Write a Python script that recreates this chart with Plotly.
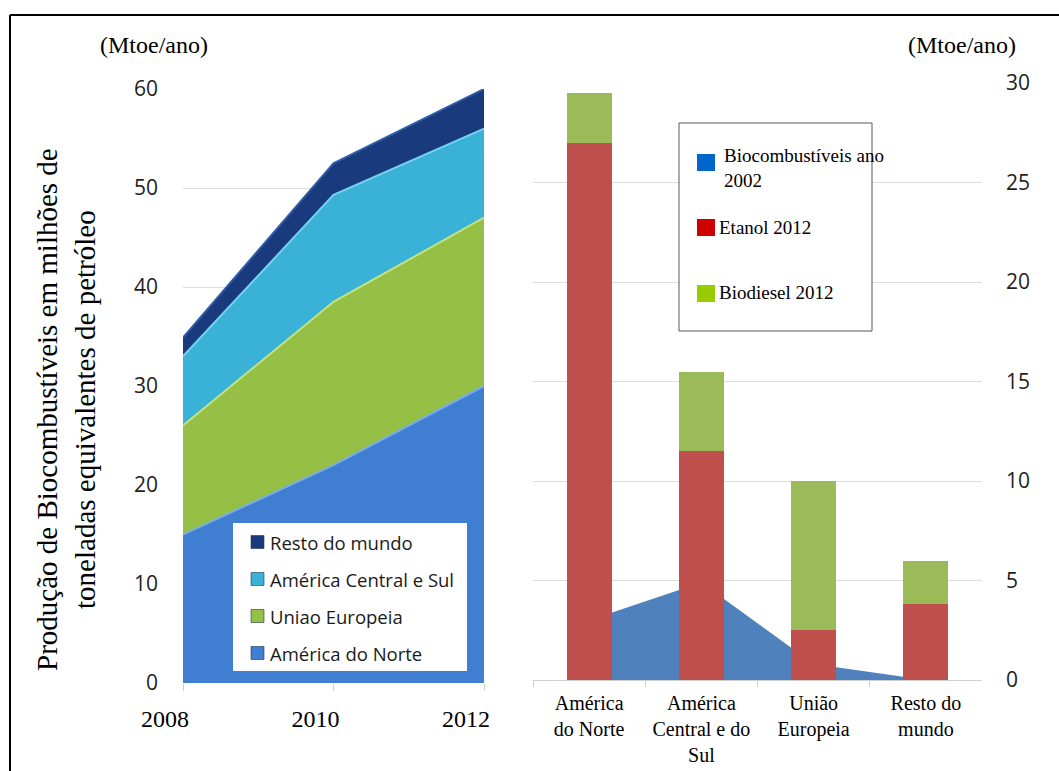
import plotly.graph_objects as go

W, H = 1059, 771

# ---------------- data ----------------
years = [2008, 2010, 2012]
norte = [15.0, 22.0, 30.0]
uniao = [11.0, 16.5, 17.0]
central = [7.0, 10.8, 9.0]
resto = [1.9, 3.2, 4.0]
left_names = ["América do Norte", "Uniao Europeia", "América Central e Sul", "Resto do mundo"]
left_ticks = [0, 10, 20, 30, 40, 50, 60]

regions = ["América<br>do Norte", "América<br>Central e do<br>Sul", "União<br>Europeia", "Resto do<br>mundo"]
bio2002 = [3.0, 4.9, 0.8, 0.0]
etanol2012 = [27.0, 11.5, 2.5, 3.8]
biodiesel2012 = [2.5, 4.0, 7.5, 2.2]
right_names = ["Biocombustíveis ano<br>2002", "Etanol 2012", "Biodiesel 2012"]
right_ticks = [0, 5, 10, 15, 20, 25, 30]

unit_label = "(Mtoe/ano)"
y_title = "Produção de Biocombustíveis em milhões de<br>toneladas equivalentes de petróleo"

# ---------------- style ----------------
SERIF = "Liberation Serif, Times New Roman, serif"
SANS = "Open Sans, Noto Sans, sans-serif"
left_fill = ["#3F7ED0", "#95BF45", "#3AB2D8", "#1A3A7E"]
left_line = ["#78ACEC", "#C4E27E", "#74D2EE", "#2F5BA6"]
right_colors = ["#4F81BD", "#C0504D", "#9BBB59"]
right_legend_colors = ["#0066CC", "#CC0000", "#99CC00"]


def px(x):
    return x / W


def py(y):
    return 1 - y / H


fig = go.Figure()

left_values = [norte, uniao, central, resto]
for name, vals, fc, lc in zip(left_names, left_values, left_fill, left_line):
    fig.add_trace(go.Scatter(
        x=years, y=vals, name=name, stackgroup="left", mode="lines",
        line=dict(color=lc, width=2), fillcolor=fc, showlegend=False,
        xaxis="x", yaxis="y", hoverinfo="x+y+name",
    ))

# area of 2002 (behind bars)
fig.add_trace(go.Scatter(
    x=regions, y=bio2002, name="Biocombustíveis ano 2002", mode="lines",
    fill="tozeroy", fillcolor=right_colors[0], line=dict(color=right_colors[0], width=0),
    showlegend=False, xaxis="x2", yaxis="y2",
))
fig.add_trace(go.Bar(
    x=regions, y=etanol2012, name="Etanol 2012", marker=dict(color=right_colors[1], line=dict(width=0)),
    width=0.4, showlegend=False, xaxis="x3", yaxis="y3",
))
fig.add_trace(go.Bar(
    x=regions, y=biodiesel2012, name="Biodiesel 2012", marker=dict(color=right_colors[2], line=dict(width=0)),
    width=0.4, showlegend=False, xaxis="x3", yaxis="y3",
))

shapes = []
annotations = []

# outer frame (top and left edges visible)
shapes.append(dict(type="line", xref="paper", yref="paper", x0=px(10), x1=1.0, y0=py(15), y1=py(15),
                   line=dict(color="black", width=2)))
shapes.append(dict(type="line", xref="paper", yref="paper", x0=px(10), x1=px(10), y0=py(15), y1=0,
                   line=dict(color="black", width=2)))

# left legend (manual, reversed order)
shapes.append(dict(type="rect", xref="paper", yref="paper", x0=px(233), x1=px(467), y0=py(671), y1=py(523),
                   fillcolor="white", line=dict(width=0), layer="above"))
rows_y = [653, 616, 579, 542]
for name, fc, yy in zip(left_names, left_fill, rows_y):
    shapes.append(dict(type="rect", xref="paper", yref="paper", x0=px(251), x1=px(264),
                       y0=py(yy + 6.5), y1=py(yy - 6.5), fillcolor=fc,
                       line=dict(color="#1d3557", width=0.6), layer="above"))
    annotations.append(dict(text=name, xref="paper", yref="paper", x=px(268), y=py(yy),
                            xanchor="left", yanchor="middle", showarrow=False,
                            font=dict(family=SANS, size=18.5, color="#1a1a1a")))

# right legend (manual)
shapes.append(dict(type="rect", xref="paper", yref="paper", x0=px(679), x1=px(872), y0=py(331), y1=py(123),
                   fillcolor="white", line=dict(color="#595959", width=1), layer="above"))
sw_y = [162.5, 227.5, 293.5]
txt = [(722, 168), (717, 227), (717, 292)]
for name, col, sy, (tx, ty) in zip(right_names, right_legend_colors, sw_y, txt):
    shapes.append(dict(type="rect", xref="paper", yref="paper", x0=px(697), x1=px(715),
                       y0=py(sy + 8.5), y1=py(sy - 8.5), fillcolor=col, line=dict(width=0), layer="above"))
    annotations.append(dict(text=name, xref="paper", yref="paper", x=px(tx), y=py(ty),
                            xanchor="left", yanchor="middle", align="left", showarrow=False,
                            font=dict(family=SERIF, size=19, color="black")))

# unit labels
annotations.append(dict(text=unit_label, xref="paper", yref="paper", x=px(154), y=py(45),
                        xanchor="center", yanchor="middle", showarrow=False,
                        font=dict(family=SERIF, size=24, color="black")))
annotations.append(dict(text=unit_label, xref="paper", yref="paper", x=px(962), y=py(45),
                        xanchor="center", yanchor="middle", showarrow=False,
                        font=dict(family=SERIF, size=24, color="black")))

# left vertical title
annotations.append(dict(text=y_title, xref="paper", yref="paper", x=px(66), y=py(410),
                        xanchor="center", yanchor="middle", textangle=-90, showarrow=False,
                        align="center", font=dict(family=SERIF, size=29, color="black")))

fig.update_layout(
    width=W, height=H,
    margin=dict(l=0, r=0, t=0, b=0, pad=0, autoexpand=False),
    paper_bgcolor="white", plot_bgcolor="rgba(0,0,0,0)",
    barmode="stack",
    showlegend=False,
    xaxis=dict(domain=[px(183), px(484)], anchor="y", range=[2008, 2012], automargin=False,
               tickvals=years, ticktext=[str(v) for v in years],
               ticks="outside", ticklen=7, tickcolor="#d0d0d0", showline=False,
               showgrid=False, zeroline=False, ticklabelstandoff=7, ticklabelshift=-18,
               tickfont=dict(family=SERIF, size=24, color="black")),
    yaxis=dict(domain=[py(683), py(89)], anchor="x", range=[0, 60], tickvals=left_ticks, automargin=False,
               showgrid=True, gridcolor="#dedede", gridwidth=1, zeroline=False, showline=False,
               ticks="", ticklabelstandoff=24,
               tickfont=dict(family=SANS, size=21, color="#1e1e1e")),
    xaxis2=dict(domain=[px(533), px(982)], anchor="y2", type="category", range=[-0.5, 3.5], automargin=False,
                tickson="boundaries", ticks="outside", ticklen=6, tickcolor="#d0d0d0",
                showline=True, linecolor="#d0d0d0", linewidth=1, showgrid=False,
                ticklabelstandoff=5,
                tickfont=dict(family=SERIF, size=20, color="black")),
    yaxis2=dict(domain=[py(680), py(83)], anchor="x2", side="right", range=[0, 30], tickvals=right_ticks,
                automargin=False,
                showgrid=True, gridcolor="#dedede", gridwidth=1, zeroline=False, showline=False,
                ticks="", ticklabelstandoff=23,
                tickfont=dict(family=SANS, size=21, color="#1e1e1e")),
    xaxis3=dict(overlaying="x2", anchor="y3", type="category", range=[-0.5, 3.5], visible=False,
                automargin=False),
    yaxis3=dict(overlaying="y2", anchor="x3", range=[0, 30], visible=False, automargin=False),
    shapes=shapes,
    annotations=annotations,
)

fig.write_html("out.html", config={"displayModeBar": False},
               post_script="document.body.style.margin='0';document.body.style.overflow='hidden';")
